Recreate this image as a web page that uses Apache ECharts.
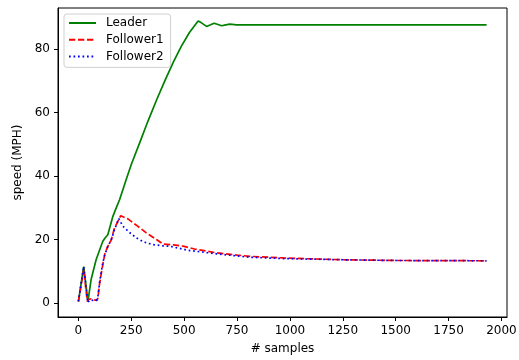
<!DOCTYPE html>
<html>
<head>
<meta charset="utf-8">
<script src="https://cdn.jsdelivr.net/npm/echarts@6/dist/echarts.min.js"></script>
<style>
html,body{margin:0;padding:0;background:#fff;}
#c{width:519px;height:360px;}
</style>
</head>
<body>
<div id="c"></div>
<script>
const seriesNames = ['Leader', 'Follower1', 'Follower2'];
const xTicks = [0, 250, 500, 750, 1000, 1250, 1500, 1750, 2000];
const yTicks = [0, 20, 40, 60, 80];

const leader = [[0,0.5],[25,11.5],[45,0.5],[60,7.4],[84,13.7],[115,19.4],[125,20.4],[139,21.5],[163,27.3],[176,29.5],[195,32.6],[226,38.9],[250,43.6],[290,50.5],[329,57.3],[370,64],[408,69.9],[450,76],[487,80.9],[525,85.2],[566,88.8],[580,88.3],[606,87.1],[625,87.6],[642,88.1],[660,87.7],[677,87.3],[697,87.6],[716,87.8],[748,87.6],[800,87.6],[1930,87.6]];

const follower1 = [[0,0.5],[25,10.5],[42,0.5],[50,1.2],[60,1.3],[75,1],[88,0.8],[92,1.6],[100,6],[115,12],[125,15.5],[140,18],[155,19.8],[170,23.5],[200,27.5],[234,26.5],[280,24.2],[321,22.1],[369,20],[400,18.6],[450,18.3],[495,17.9],[550,17],[653,15.8],[750,15.1],[811,14.7],[969,14.2],[1100,13.9],[1270,13.6],[1500,13.4],[1930,13.3]];

const follower2 = [[0,0.5],[25,11.5],[44,0.2],[55,1],[70,0.8],[84,0.8],[92,2],[100,6.5],[115,12.5],[125,15.3],[140,18],[155,19.8],[170,23],[191,26.6],[210,24.2],[240,22.3],[274,20.5],[310,19.2],[352,18.4],[400,18],[432,17.9],[519,16.6],[653,15.5],[811,14.4],[969,14],[1270,13.6],[1500,13.4],[1930,13.3]];

const chart = echarts.init(document.getElementById('c'));
const font = 'DejaVu Sans';
const fs = 12;
chart.setOption({
  animation: false,
  backgroundColor: '#fff',
  grid: {left: 58, right: 12, top: 8, bottom: 43, show: true, borderColor: '#000', borderWidth: 1, outerBoundsMode: 'none'},
  legend: {
    data: seriesNames,
    orient: 'vertical',
    left: 64, top: 14,
    itemWidth: 27, itemHeight: 14, itemGap: 4.7,
    padding: [3, 7, 5, 4],
    borderColor: '#d0d0d0', borderWidth: 1, borderRadius: 3,
    backgroundColor: 'rgba(255,255,255,0.8)',
    itemStyle: {opacity: 0, borderWidth: 0},
    textStyle: {fontFamily: font, fontSize: fs, color: '#000', padding: [0,0,0,5]}
  },
  xAxis: {
    type: 'value', min: -96.5, max: 2026.5,
    name: '# samples', nameLocation: 'middle', nameGap: 26,
    nameTextStyle: {fontFamily: font, fontSize: fs, color: '#000'},
    axisLine: {show: true, onZero: false, lineStyle: {color: '#000', width: 1}},
    axisTick: {show: true, length: 4, inside: false, customValues: xTicks, lineStyle: {color: '#000'}},
    axisLabel: {customValues: xTicks, margin: 8, fontFamily: font, fontSize: fs, color: '#000', formatter: v => String(v)},
    splitLine: {show: false}
  },
  yAxis: {
    type: 'value', min: -4.4, max: 92.9,
    name: 'speed (MPH)', nameLocation: 'middle', nameGap: 27, nameRotate: 90,
    nameTextStyle: {fontFamily: font, fontSize: fs, color: '#000'},
    axisLine: {show: true, onZero: false, lineStyle: {color: '#000', width: 1}},
    axisTick: {show: true, length: 4, inside: false, customValues: yTicks, lineStyle: {color: '#000'}},
    axisLabel: {customValues: yTicks, margin: 8, fontFamily: font, fontSize: fs, color: '#000', formatter: v => String(v)},
    splitLine: {show: false}
  },
  series: [
    {name: seriesNames[0], type: 'line', data: leader, symbol: 'none', itemStyle: {color: '#008000'}, lineStyle: {color: '#008000', width: 1.7}},
    {name: seriesNames[1], type: 'line', data: follower1, symbol: 'none', itemStyle: {color: '#ff0000'}, lineStyle: {color: '#ff0000', width: 1.7, type: [6.3, 2.7], cap: 'butt'}},
    {name: seriesNames[2], type: 'line', data: follower2, symbol: 'none', itemStyle: {color: '#0000ff'}, lineStyle: {color: '#0000ff', width: 1.7, type: [1.7, 2.8], cap: 'butt'}}
  ]
});
</script>
</body>
</html>
